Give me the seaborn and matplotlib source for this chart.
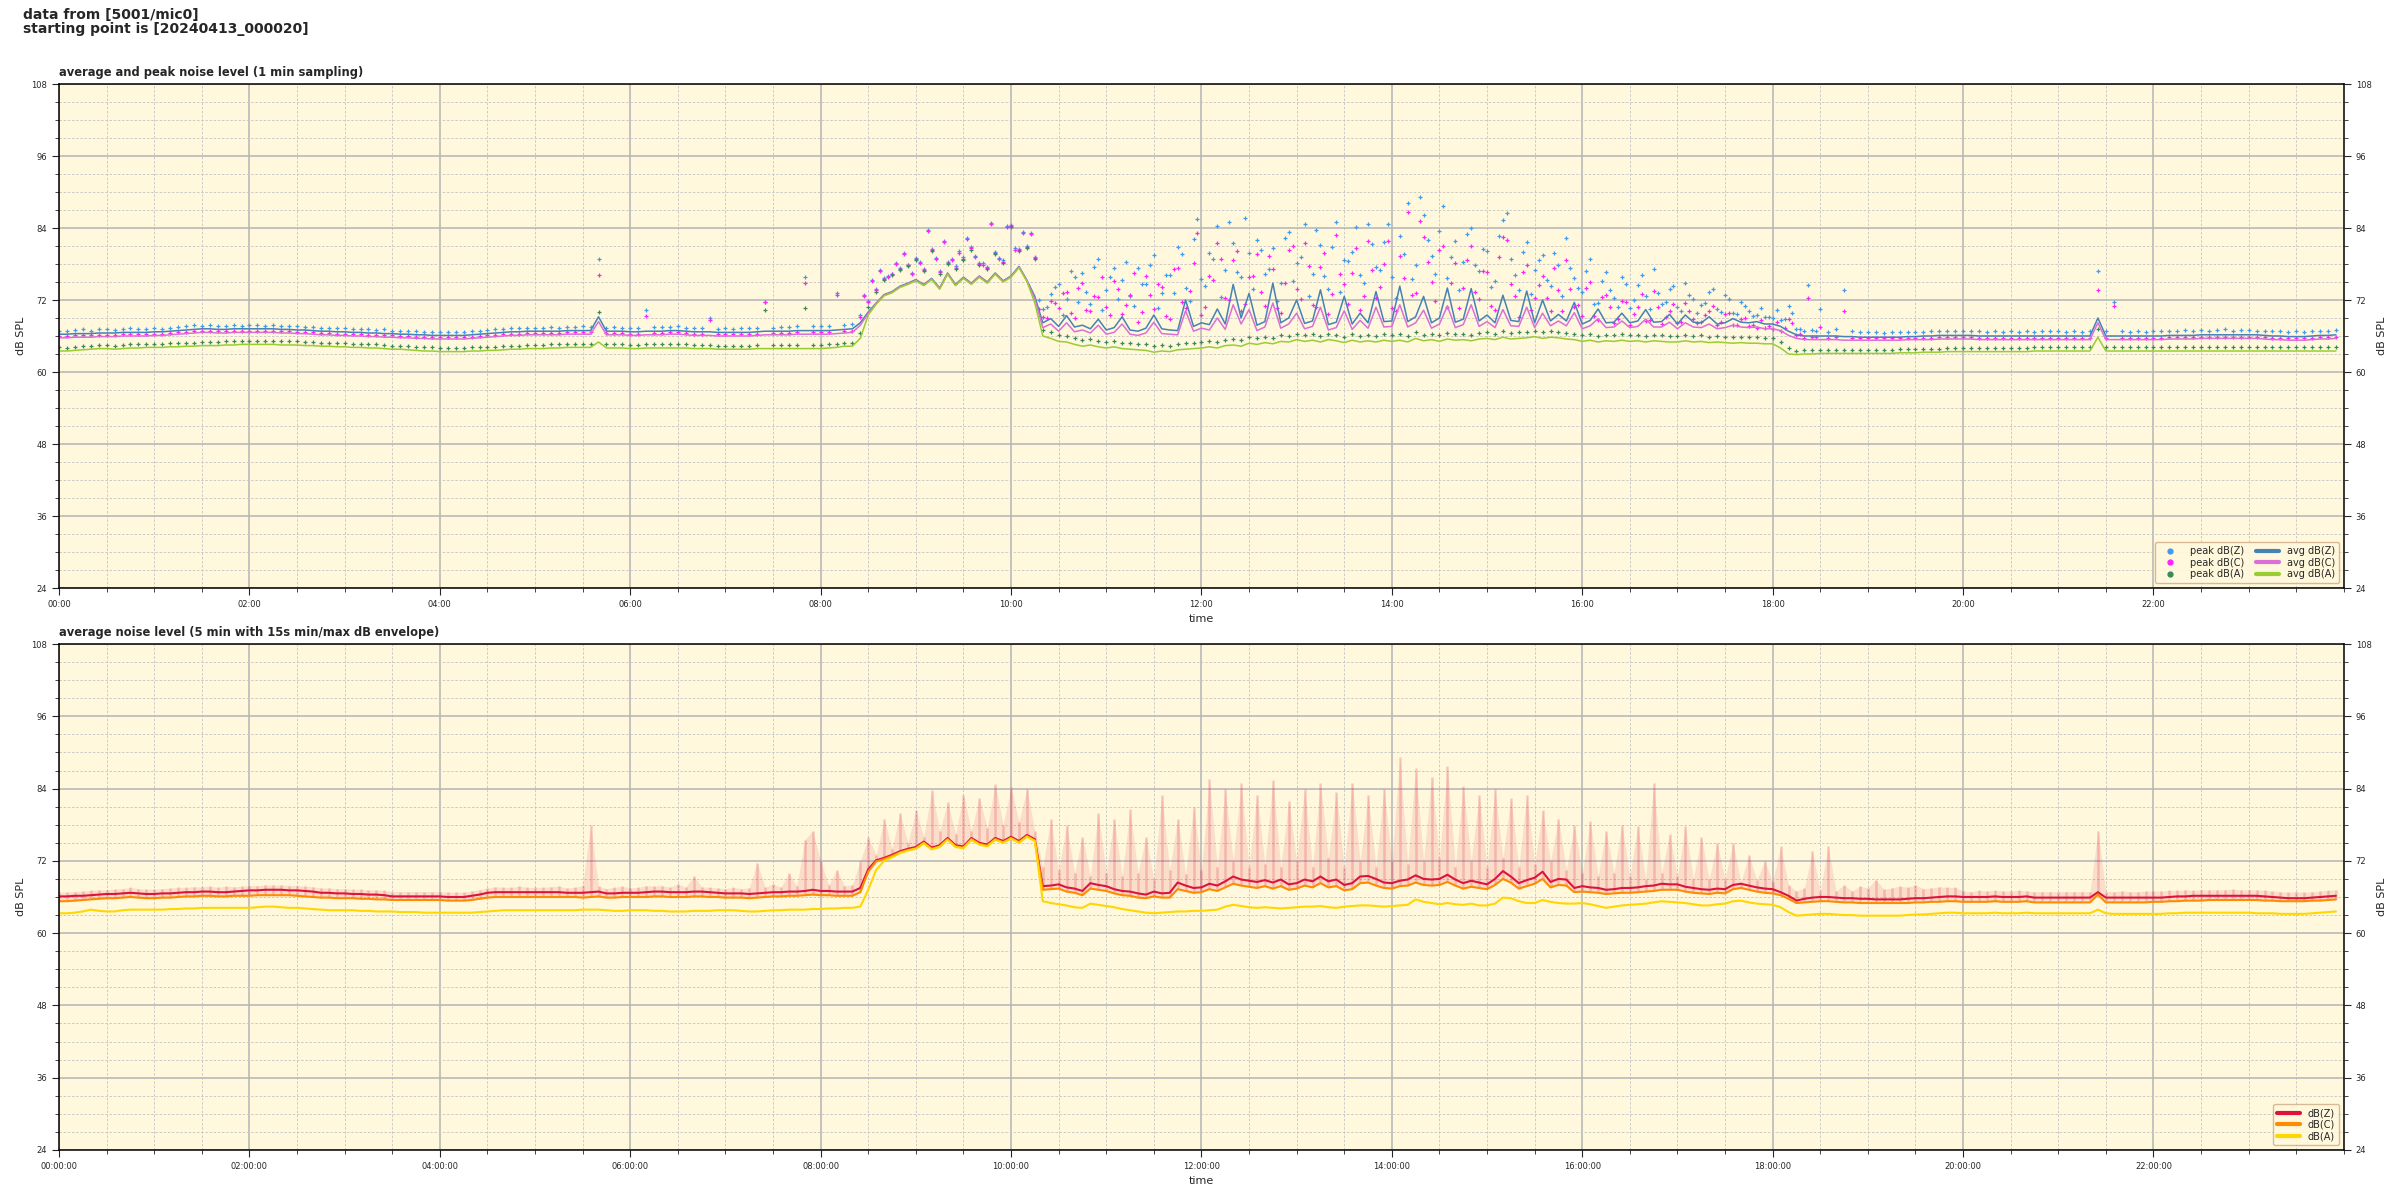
import numpy as np
import matplotlib
matplotlib.use("Agg")
import matplotlib.pyplot as plt
from matplotlib.ticker import MultipleLocator, FuncFormatter
from matplotlib.lines import Line2D
import seaborn as sns

sns.set_style("ticks")
plt.rcParams["font.family"] = ["DejaVu Sans"]

# sampling times, minutes after 00:00 (5 min grid)
minutes = np.arange(0, 1440, 5)

# ---- lower panel : 5 min averages ----
db_z = [
    66.1, 66.1, 66.2, 66.2, 66.3, 66.4, 66.5, 66.5, 66.6, 66.7, 66.6, 66.5,
    66.5, 66.6, 66.6, 66.7, 66.8, 66.8, 66.9, 66.9, 66.8, 66.8, 66.9, 67.0,
    67.1, 67.1, 67.2, 67.2, 67.2, 67.1, 67.1, 67.0, 66.9, 66.7, 66.7, 66.6,
    66.6, 66.5, 66.5, 66.4, 66.4, 66.3, 66.1, 66.1, 66.1, 66.1, 66.1, 66.1,
    66.1, 66.0, 66.0, 66.0, 66.2, 66.4, 66.7, 66.8, 66.8, 66.8, 66.8, 66.8,
    66.8, 66.8, 66.8, 66.8, 66.7, 66.7, 66.7, 66.8, 66.9, 66.6, 66.6, 66.7,
    66.7, 66.7, 66.8, 66.9, 66.9, 66.8, 66.8, 66.8, 66.9, 66.9, 66.8, 66.7,
    66.6, 66.6, 66.6, 66.5, 66.6, 66.7, 66.8, 66.8, 66.9, 66.9, 67.0, 67.2,
    67.0, 67.0, 66.9, 66.9, 66.9, 67.5, 70.6, 72.1, 72.5, 73.0, 73.6, 74.0,
    74.3, 75.2, 74.2, 74.6, 75.8, 74.6, 74.4, 75.8, 75.0, 74.7, 75.8, 75.3,
    76.0, 75.3, 76.3, 75.6, 67.8, 67.9, 68.1, 67.6, 67.4, 67.0, 68.3, 68.0,
    67.8, 67.3, 67.0, 66.9, 66.6, 66.4, 66.9, 66.6, 66.7, 68.4, 67.9, 67.5,
    67.6, 68.2, 67.9, 68.6, 69.4, 68.9, 68.7, 68.5, 68.8, 68.4, 68.9, 68.1,
    68.3, 68.9, 68.6, 69.4, 68.6, 68.9, 68.0, 68.3, 69.4, 69.5, 69.0, 68.4,
    68.3, 68.7, 68.9, 69.6, 69.0, 68.9, 69.0, 69.7, 68.9, 68.3, 68.7, 68.4,
    68.1, 69.0, 70.3, 69.4, 68.3, 68.8, 69.2, 70.2, 68.5, 69.0, 68.9, 67.5,
    67.8, 67.6, 67.5, 67.2, 67.3, 67.5, 67.5, 67.6, 67.8, 67.9, 68.2, 68.1,
    68.1, 67.7, 67.5, 67.3, 67.2, 67.4, 67.3, 68.0, 68.2, 67.9, 67.6, 67.4,
    67.3, 66.8, 66.2, 65.4, 65.7, 65.9, 66.0, 66.0, 65.9, 65.8, 65.8, 65.7,
    65.7, 65.6, 65.6, 65.6, 65.6, 65.7, 65.8, 65.8, 65.9, 66.0, 66.1, 66.1,
    66.0, 66.0, 66.0, 66.0, 66.1, 66.0, 66.0, 66.0, 66.1, 65.9, 65.9, 65.9,
    65.9, 65.9, 65.9, 65.9, 65.9, 66.8, 65.9, 65.9, 65.9, 65.9, 65.9, 65.9,
    65.9, 65.9, 66.0, 66.1, 66.1, 66.2, 66.2, 66.2, 66.2, 66.2, 66.2, 66.2,
    66.2, 66.2, 66.1, 66.0, 65.9, 65.8, 65.8, 65.8, 65.9, 66.0, 66.1, 66.2,
]
db_c = [
    65.3, 65.3, 65.4, 65.5, 65.6, 65.7, 65.8, 65.8, 65.9, 66.0, 65.9, 65.8,
    65.8, 65.9, 65.9, 66.0, 66.1, 66.1, 66.2, 66.2, 66.1, 66.1, 66.2, 66.2,
    66.2, 66.3, 66.3, 66.3, 66.3, 66.3, 66.2, 66.1, 66.0, 65.9, 65.9, 65.8,
    65.8, 65.8, 65.7, 65.7, 65.6, 65.6, 65.5, 65.5, 65.5, 65.5, 65.5, 65.5,
    65.5, 65.4, 65.4, 65.4, 65.5, 65.7, 65.9, 66.0, 66.0, 66.0, 66.0, 66.0,
    66.0, 66.0, 66.0, 66.0, 66.0, 66.0, 65.9, 66.0, 66.1, 65.9, 65.9, 66.0,
    66.0, 66.0, 66.0, 66.1, 66.1, 66.0, 66.0, 66.0, 66.1, 66.1, 66.0, 66.0,
    65.9, 65.9, 65.9, 65.8, 65.9, 66.0, 66.1, 66.1, 66.2, 66.2, 66.3, 66.4,
    66.3, 66.3, 66.2, 66.2, 66.2, 66.8, 70.2, 71.9, 72.3, 72.8, 73.4, 73.8,
    74.1, 75.0, 74.0, 74.4, 75.6, 74.4, 74.2, 75.6, 74.8, 74.5, 75.6, 75.1,
    75.8, 75.1, 76.1, 75.4, 67.2, 67.3, 67.4, 66.9, 66.7, 66.3, 67.4, 67.2,
    67.0, 66.6, 66.3, 66.2, 65.9, 65.8, 66.1, 65.9, 65.9, 67.3, 67.0, 66.7,
    66.8, 67.3, 67.0, 67.6, 68.2, 67.9, 67.7, 67.5, 67.8, 67.4, 67.8, 67.2,
    67.4, 67.9, 67.6, 68.3, 67.6, 67.8, 67.1, 67.3, 68.3, 68.4, 67.9, 67.5,
    67.4, 67.8, 67.9, 68.4, 68.0, 67.9, 68.0, 68.5, 67.9, 67.4, 67.7, 67.5,
    67.3, 68.0, 69.0, 68.4, 67.4, 67.8, 68.2, 69.0, 67.6, 68.0, 67.9, 66.8,
    66.9, 66.8, 66.7, 66.5, 66.6, 66.7, 66.7, 66.8, 66.9, 67.0, 67.2, 67.2,
    67.2, 66.9, 66.7, 66.6, 66.5, 66.7, 66.6, 67.3, 67.5, 67.2, 66.9, 66.7,
    66.6, 66.3, 65.7, 65.0, 65.1, 65.2, 65.3, 65.3, 65.2, 65.1, 65.1, 65.0,
    65.0, 65.0, 65.0, 65.0, 65.0, 65.0, 65.1, 65.1, 65.2, 65.2, 65.3, 65.3,
    65.2, 65.2, 65.2, 65.2, 65.3, 65.2, 65.2, 65.2, 65.3, 65.1, 65.1, 65.1,
    65.1, 65.1, 65.1, 65.1, 65.1, 66.4, 65.1, 65.1, 65.1, 65.1, 65.1, 65.1,
    65.2, 65.2, 65.3, 65.3, 65.4, 65.4, 65.4, 65.5, 65.5, 65.5, 65.5, 65.5,
    65.5, 65.5, 65.4, 65.4, 65.3, 65.3, 65.3, 65.3, 65.4, 65.4, 65.5, 65.6,
]
db_a = [
    63.3, 63.3, 63.4, 63.6, 63.9, 63.7, 63.6, 63.6, 63.8, 63.9, 63.9, 63.9,
    63.9, 63.9, 64.0, 64.0, 64.1, 64.1, 64.2, 64.2, 64.2, 64.2, 64.2, 64.2,
    64.2, 64.3, 64.4, 64.4, 64.3, 64.2, 64.2, 64.1, 64.0, 63.9, 63.8, 63.8,
    63.8, 63.8, 63.7, 63.7, 63.6, 63.6, 63.6, 63.5, 63.5, 63.5, 63.4, 63.4,
    63.4, 63.4, 63.4, 63.4, 63.4, 63.5, 63.6, 63.7, 63.8, 63.8, 63.8, 63.8,
    63.8, 63.8, 63.8, 63.8, 63.8, 63.8, 63.9, 63.9, 63.9, 63.8, 63.7, 63.7,
    63.8, 63.8, 63.8, 63.7, 63.7, 63.6, 63.6, 63.6, 63.7, 63.7, 63.7, 63.8,
    63.8, 63.8, 63.7, 63.6, 63.6, 63.7, 63.8, 63.8, 63.9, 63.9, 63.9, 64.0,
    64.0, 64.1, 64.1, 64.2, 64.2, 64.4, 67.2, 70.5, 72.0, 72.6, 73.3, 73.7,
    74.0, 74.9, 73.9, 74.3, 75.5, 74.3, 74.1, 75.5, 74.7, 74.4, 75.5, 75.0,
    75.7, 75.0, 76.0, 75.3, 65.3, 65.0, 64.8, 64.6, 64.3, 64.2, 64.9, 64.7,
    64.5, 64.3, 64.0, 63.8, 63.6, 63.4, 63.3, 63.4, 63.5, 63.6, 63.6, 63.7,
    63.7, 63.8, 63.9, 64.4, 64.7, 64.5, 64.3, 64.2, 64.3, 64.2, 64.1, 64.2,
    64.3, 64.4, 64.4, 64.5, 64.3, 64.2, 64.4, 64.5, 64.6, 64.6, 64.5, 64.4,
    64.5, 64.6, 64.7, 65.6, 65.2, 65.0, 64.8, 65.0, 64.8, 64.7, 64.9, 64.6,
    64.6, 64.9, 65.9, 65.8, 65.3, 65.0, 65.0, 65.5, 65.2, 65.0, 64.9, 64.9,
    65.0, 64.8, 64.5, 64.2, 64.4, 64.6, 64.7, 64.8, 64.9, 65.1, 65.3, 65.2,
    65.1, 65.0, 64.8, 64.6, 64.6, 64.8, 64.9, 65.3, 65.4, 65.1, 64.9, 64.8,
    64.7, 64.3, 63.5, 62.9, 63.0, 63.1, 63.2, 63.2, 63.1, 63.0, 63.0, 62.9,
    62.9, 62.9, 62.9, 62.9, 62.9, 63.0, 63.1, 63.1, 63.2, 63.3, 63.4, 63.4,
    63.3, 63.3, 63.3, 63.3, 63.4, 63.3, 63.3, 63.3, 63.4, 63.3, 63.3, 63.3,
    63.3, 63.3, 63.3, 63.3, 63.3, 63.9, 63.3, 63.2, 63.2, 63.2, 63.2, 63.2,
    63.2, 63.2, 63.3, 63.3, 63.4, 63.4, 63.4, 63.4, 63.4, 63.4, 63.4, 63.4,
    63.4, 63.3, 63.3, 63.3, 63.2, 63.2, 63.2, 63.2, 63.3, 63.4, 63.5, 63.6,
]
# upper edge of the 15 s min/max envelope
env_max = [
    66.8, 66.8, 66.9, 67.0, 67.1, 67.2, 67.2, 67.3, 67.4, 67.6, 67.4, 67.3,
    67.3, 67.4, 67.5, 67.6, 67.6, 67.7, 67.7, 67.8, 67.6, 67.8, 67.7, 67.8,
    67.9, 67.9, 68.0, 68.0, 68.0, 67.9, 67.9, 67.8, 67.7, 67.5, 67.5, 67.4,
    67.4, 67.3, 67.3, 67.2, 67.2, 67.1, 66.9, 66.9, 66.9, 66.9, 66.9, 66.9,
    66.9, 66.8, 66.8, 66.8, 67.0, 67.2, 67.5, 67.7, 67.6, 67.6, 67.8, 67.6,
    67.6, 67.6, 67.7, 67.8, 67.5, 67.6, 67.9, 78.0, 67.8, 67.4, 67.6, 67.8,
    67.5, 67.6, 67.9, 67.8, 67.9, 67.6, 68.2, 67.6, 69.5, 67.7, 67.6, 67.5,
    67.4, 67.6, 67.4, 67.5, 71.7, 67.6, 68.2, 67.6, 70.0, 67.8, 75.5, 77.0,
    72.0, 68.0, 70.5, 67.9, 68.0, 72.0, 75.9, 73.0, 79.0, 74.0, 80.0, 75.0,
    80.5, 76.0, 83.7, 77.0, 81.7, 76.5, 83.0, 77.0, 82.5, 77.5, 84.8, 78.0,
    84.2, 78.5, 84.0, 77.0, 71.0, 79.0, 70.5, 78.0, 70.0, 76.0, 69.5, 80.0,
    70.0, 79.0, 69.5, 80.6, 70.0, 76.0, 69.0, 83.0, 70.5, 79.0, 69.8, 81.0,
    70.5, 85.6, 71.0, 84.0, 72.0, 85.0, 71.0, 83.0, 71.5, 85.5, 71.0, 82.0,
    72.0, 84.0, 71.0, 85.0, 72.5, 83.5, 71.0, 85.0, 72.0, 83.0, 71.0, 84.0,
    72.0, 89.2, 71.5, 87.5, 72.0, 86.0, 72.5, 87.8, 71.0, 84.5, 72.0, 83.0,
    71.0, 83.9, 72.5, 82.5, 71.0, 83.0, 71.5, 80.5, 72.0, 79.0, 70.5, 78.0,
    70.0, 78.6, 69.5, 77.0, 70.0, 78.0, 69.5, 77.8, 69.0, 85.0, 70.0, 76.5,
    69.5, 77.8, 69.0, 76.0, 69.0, 75.0, 69.0, 75.0, 68.5, 73.0, 68.8, 72.0,
    68.5, 74.4, 68.0, 67.0, 67.5, 73.6, 67.0, 74.4, 67.0, 68.0, 67.0, 67.8,
    67.5, 68.9, 67.3, 67.5, 67.8, 67.6, 68.0, 67.4, 67.5, 67.7, 67.6, 67.6,
    67.0, 66.9, 67.1, 67.0, 67.1, 67.0, 67.0, 67.1, 67.0, 66.9, 66.9, 66.9,
    66.9, 66.9, 66.9, 66.9, 66.9, 77.0, 66.9, 66.9, 67.0, 66.9, 66.9, 67.0,
    67.0, 67.0, 67.1, 67.1, 67.2, 67.1, 67.2, 67.2, 67.2, 67.2, 67.3, 67.2,
    67.2, 67.2, 67.1, 67.0, 66.9, 66.8, 66.9, 66.8, 66.9, 67.0, 67.1, 67.2,
]

# ---- upper panel : averages and peaks ----
avg_z = [
    66.3, 66.3, 66.4, 66.4, 66.4, 66.5, 66.5, 66.5, 66.6, 66.6, 66.6, 66.6,
    66.7, 66.7, 66.8, 66.9, 67.0, 67.1, 67.2, 67.2, 67.1, 67.1, 67.2, 67.2,
    67.2, 67.2, 67.2, 67.2, 67.1, 67.1, 67.0, 67.0, 66.9, 66.8, 66.8, 66.7,
    66.7, 66.6, 66.6, 66.5, 66.5, 66.4, 66.4, 66.3, 66.3, 66.2, 66.2, 66.1,
    66.1, 66.1, 66.1, 66.1, 66.2, 66.3, 66.4, 66.5, 66.6, 66.7, 66.7, 66.8,
    66.8, 66.8, 66.8, 66.8, 66.9, 66.9, 66.9, 66.9, 69.2, 66.8, 66.8, 66.8,
    66.7, 66.7, 66.8, 66.8, 66.8, 66.9, 66.9, 66.8, 66.7, 66.7, 66.7, 66.6,
    66.6, 66.6, 66.6, 66.6, 66.7, 66.8, 66.8, 66.8, 66.8, 66.9, 66.9, 66.9,
    66.9, 66.9, 67.0, 67.1, 67.2, 68.2, 70.0, 71.5, 72.9, 73.4, 74.3, 74.8,
    75.4, 74.6, 75.6, 74.0, 76.5, 74.6, 75.8, 74.8, 76.0, 75.0, 76.5, 75.2,
    76.0, 77.6, 75.3, 72.6, 68.2, 68.9, 67.6, 69.4, 67.5, 67.8, 67.2, 68.8,
    67.0, 67.4, 69.2, 67.0, 66.8, 67.3, 69.5, 67.2, 67.0, 66.9, 72.0, 67.6,
    68.2, 67.9, 70.5, 68.0, 74.6, 69.0, 73.1, 67.8, 68.4, 74.8, 68.2, 69.0,
    72.0, 68.1, 68.5, 73.7, 67.9, 68.3, 72.6, 68.0, 69.8, 68.2, 73.4, 68.4,
    68.5, 74.3, 68.4, 69.2, 72.6, 68.2, 69.0, 74.0, 68.3, 68.8, 73.9, 68.5,
    69.5, 68.2, 72.8, 68.6, 68.4, 73.5, 68.2, 72.0, 68.5, 69.6, 68.5, 71.6,
    68.0, 68.6, 70.5, 68.2, 68.3, 69.8, 68.2, 68.5, 70.4, 68.3, 68.4, 69.6,
    68.0, 69.5, 68.3, 68.2, 69.2, 68.0, 68.2, 68.9, 68.3, 68.2, 68.4, 68.0,
    68.0, 67.6, 66.8, 66.2, 66.0, 66.0, 66.0, 66.0, 66.0, 65.9, 65.9, 65.8,
    65.8, 65.8, 65.8, 65.8, 65.8, 65.9, 65.9, 66.0, 66.0, 66.1, 66.1, 66.1,
    66.1, 66.1, 66.0, 66.0, 66.0, 66.0, 66.0, 66.0, 66.0, 66.0, 66.0, 66.0,
    66.0, 66.0, 66.0, 66.0, 66.0, 69.0, 66.0, 66.0, 66.0, 66.0, 66.0, 66.0,
    66.0, 66.0, 66.1, 66.1, 66.1, 66.1, 66.2, 66.2, 66.2, 66.2, 66.2, 66.2,
    66.2, 66.2, 66.1, 66.0, 66.0, 65.9, 65.9, 65.9, 66.0, 66.1, 66.1, 66.2,
]
avg_c = [
    65.7, 65.7, 65.8, 65.8, 65.8, 65.9, 65.9, 65.9, 66.0, 66.0, 66.0, 66.0,
    66.1, 66.1, 66.2, 66.3, 66.4, 66.5, 66.6, 66.6, 66.5, 66.5, 66.6, 66.6,
    66.6, 66.6, 66.6, 66.6, 66.5, 66.5, 66.4, 66.4, 66.3, 66.2, 66.2, 66.1,
    66.1, 66.0, 66.0, 65.9, 65.9, 65.8, 65.8, 65.7, 65.7, 65.6, 65.6, 65.5,
    65.5, 65.5, 65.5, 65.5, 65.6, 65.7, 65.8, 65.9, 66.0, 66.1, 66.1, 66.2,
    66.2, 66.2, 66.2, 66.2, 66.3, 66.3, 66.3, 66.3, 68.4, 66.2, 66.2, 66.2,
    66.1, 66.1, 66.2, 66.2, 66.2, 66.3, 66.3, 66.2, 66.1, 66.1, 66.1, 66.0,
    66.0, 66.0, 66.0, 66.0, 66.1, 66.2, 66.2, 66.2, 66.2, 66.3, 66.3, 66.3,
    66.3, 66.3, 66.4, 66.5, 66.6, 67.8, 69.8, 71.4, 72.8, 73.3, 74.2, 74.7,
    75.3, 74.5, 75.5, 73.9, 76.4, 74.5, 75.7, 74.7, 75.9, 74.9, 76.4, 75.1,
    75.9, 77.5, 75.2, 72.2, 67.4, 68.0, 66.8, 68.2, 66.7, 67.0, 66.5, 67.8,
    66.3, 66.6, 68.0, 66.3, 66.1, 66.5, 68.3, 66.4, 66.3, 66.2, 70.2, 66.8,
    67.3, 67.0, 69.0, 67.1, 71.2, 68.0, 70.4, 66.9, 67.5, 71.5, 67.3, 68.0,
    69.8, 67.2, 67.6, 70.8, 67.0, 67.4, 70.2, 67.1, 68.6, 67.3, 70.8, 67.5,
    67.6, 71.2, 67.5, 68.2, 70.3, 67.3, 68.0, 71.0, 67.4, 67.9, 71.2, 67.6,
    68.4, 67.4, 70.4, 67.7, 67.6, 70.8, 67.4, 69.8, 67.7, 68.5, 67.7, 69.9,
    67.2, 67.7, 68.9, 67.4, 67.5, 68.5, 67.4, 67.6, 68.8, 67.5, 67.5, 68.3,
    67.2, 68.2, 67.5, 67.4, 68.0, 67.2, 67.4, 67.8, 67.5, 67.4, 67.5, 67.2,
    67.2, 66.9, 66.1, 65.6, 65.4, 65.4, 65.4, 65.4, 65.4, 65.3, 65.3, 65.3,
    65.3, 65.3, 65.3, 65.3, 65.3, 65.4, 65.4, 65.4, 65.4, 65.5, 65.5, 65.5,
    65.5, 65.5, 65.4, 65.4, 65.4, 65.4, 65.4, 65.4, 65.4, 65.4, 65.4, 65.4,
    65.4, 65.4, 65.4, 65.4, 65.4, 68.2, 65.4, 65.4, 65.4, 65.4, 65.4, 65.4,
    65.4, 65.4, 65.5, 65.5, 65.5, 65.5, 65.6, 65.6, 65.6, 65.6, 65.6, 65.6,
    65.6, 65.6, 65.5, 65.4, 65.4, 65.3, 65.3, 65.3, 65.4, 65.5, 65.5, 65.6,
]
avg_a = [
    63.5, 63.5, 63.6, 63.7, 63.8, 63.9, 63.9, 63.8, 63.9, 64.0, 64.0, 64.1,
    64.1, 64.1, 64.2, 64.2, 64.3, 64.3, 64.4, 64.4, 64.4, 64.5, 64.5, 64.6,
    64.6, 64.6, 64.6, 64.6, 64.5, 64.5, 64.5, 64.4, 64.4, 64.3, 64.3, 64.2,
    64.2, 64.1, 64.1, 64.0, 64.0, 63.9, 63.8, 63.8, 63.7, 63.6, 63.5, 63.5,
    63.4, 63.4, 63.4, 63.4, 63.5, 63.5, 63.6, 63.6, 63.7, 63.8, 63.8, 63.9,
    63.9, 63.9, 64.0, 64.0, 64.1, 64.1, 64.1, 64.1, 65.0, 64.0, 64.0, 64.0,
    63.9, 63.9, 64.0, 64.0, 64.0, 64.0, 64.0, 64.0, 63.9, 63.9, 63.9, 63.8,
    63.8, 63.8, 63.8, 63.8, 63.9, 63.9, 63.9, 63.9, 63.9, 63.9, 63.9, 63.9,
    63.9, 64.0, 64.1, 64.3, 64.3, 65.6, 69.5, 71.3, 72.7, 73.2, 74.1, 74.6,
    75.2, 74.4, 75.4, 73.8, 76.3, 74.4, 75.6, 74.6, 75.8, 74.8, 76.3, 75.0,
    75.8, 77.4, 75.1, 71.5, 66.0, 65.6, 65.1, 65.0, 64.6, 64.3, 64.5, 64.2,
    64.0, 64.2, 63.9, 63.8, 63.7, 63.6, 63.3, 63.5, 63.4, 63.7, 63.8, 63.9,
    64.0, 64.2, 64.0, 64.4, 64.5, 64.3, 64.8, 64.6, 64.9, 64.7, 65.1, 65.0,
    65.4, 65.1, 65.3, 65.0, 65.4, 65.2, 64.9, 65.3, 65.0, 65.2, 65.0, 65.3,
    65.1, 65.3, 65.0, 65.6, 65.2, 65.4, 65.1, 65.5, 65.3, 65.4, 65.2, 65.5,
    65.6, 65.4, 65.8, 65.5, 65.6, 65.7, 65.9, 65.6, 65.8, 65.7, 65.5, 65.4,
    65.1, 65.3, 65.0, 65.2, 65.1, 65.3, 65.1, 65.2, 65.0, 65.2, 65.1, 65.0,
    65.0, 65.2, 65.0, 65.1, 64.9, 65.0, 64.9, 64.8, 64.9, 64.8, 64.8, 64.7,
    64.7, 64.0, 63.0, 62.9, 63.0, 63.0, 63.1, 63.1, 63.1, 63.1, 63.1, 63.1,
    63.1, 63.1, 63.1, 63.1, 63.2, 63.2, 63.2, 63.3, 63.3, 63.3, 63.4, 63.4,
    63.4, 63.4, 63.4, 63.4, 63.4, 63.4, 63.4, 63.4, 63.4, 63.5, 63.5, 63.5,
    63.5, 63.5, 63.5, 63.5, 63.5, 65.8, 63.5, 63.5, 63.5, 63.5, 63.5, 63.5,
    63.5, 63.5, 63.5, 63.5, 63.5, 63.5, 63.5, 63.5, 63.5, 63.5, 63.5, 63.5,
    63.5, 63.5, 63.5, 63.5, 63.5, 63.5, 63.5, 63.5, 63.5, 63.5, 63.5, 63.5,
]
peak_z = [
    66.9, 66.8, 67.0, 67.1, 66.9, 67.1, 67.2, 67.0, 67.2, 67.3, 67.1, 67.2,
    67.3, 67.2, 67.4, 67.5, 67.6, 67.8, 67.7, 67.9, 67.6, 67.7, 67.8, 67.7,
    67.9, 67.8, 67.7, 67.8, 67.6, 67.7, 67.6, 67.5, 67.5, 67.4, 67.3, 67.3,
    67.3, 67.2, 67.1, 67.1, 67.0, 67.1, 66.9, 66.9, 66.8, 66.8, 66.7, 66.7,
    66.7, 66.6, 66.7, 66.6, 66.8, 66.9, 67.0, 67.1, 67.2, 67.3, 67.3, 67.4,
    67.4, 67.3, 67.5, 67.4, 67.5, 67.5, 67.6, 67.5, 78.8, 67.4, 67.5, 67.4,
    67.3, 67.4, 70.4, 67.5, 67.5, 67.5, 67.6, 67.4, 67.3, 67.4, 69.0, 67.2,
    67.3, 67.2, 67.3, 67.3, 67.4, 71.7, 67.4, 67.5, 67.5, 67.6, 75.9, 67.7,
    67.7, 67.6, 73.1, 67.9, 68.0, 69.5, 71.8, 73.8, 75.6, 76.4, 77.3, 77.9,
    79.0, 77.2, 80.5, 76.8, 78.4, 77.6, 79.1, 80.8, 78.2, 77.5, 80.0, 78.6,
    84.5, 80.5, 81.0, 79.2, 70.5, 73.0, 74.6, 72.2, 75.8, 76.5, 71.4, 78.8,
    73.7, 77.4, 75.4, 72.6, 77.3, 74.7, 79.5, 73.2, 76.1, 80.8, 74.0, 82.1,
    75.5, 79.8, 84.3, 77.0, 81.5, 75.9, 79.8, 82.0, 76.4, 80.6, 74.8, 83.4,
    78.1, 84.6, 76.3, 81.2, 73.9, 85.0, 78.6, 80.0, 76.2, 84.7, 77.5, 81.6,
    75.8, 82.7, 88.2, 77.9, 86.1, 79.4, 83.5, 75.6, 81.9, 78.3, 84.0, 76.9,
    80.2, 75.1, 85.3, 78.8, 73.7, 81.6, 77.0, 79.5, 74.3, 77.8, 82.4, 75.6,
    73.4, 78.9, 71.5, 76.6, 72.3, 75.8, 70.7, 74.5, 72.6, 77.2, 71.3, 73.8,
    70.9, 74.8, 72.1, 71.2, 73.3, 70.5, 72.9, 69.8, 71.7, 70.1, 69.5, 69.2,
    69.0, 68.7, 71.0, 67.2, 66.8, 67.0, 70.5, 66.7, 67.1, 73.6, 66.8, 66.6,
    66.6, 66.7, 66.5, 66.6, 66.6, 66.7, 66.6, 66.7, 66.8, 66.8, 66.9, 66.9,
    66.9, 66.8, 66.8, 66.7, 66.8, 66.7, 66.8, 66.7, 66.8, 66.7, 66.8, 66.8,
    66.8, 66.7, 66.8, 66.7, 66.8, 76.8, 66.8, 71.7, 66.8, 66.7, 66.8, 66.7,
    66.8, 66.9, 66.9, 66.8, 67.0, 66.9, 67.0, 66.9, 67.0, 67.1, 66.9, 67.0,
    67.0, 66.9, 66.9, 66.8, 66.8, 66.7, 66.8, 66.7, 66.8, 66.9, 66.9, 67.0,
]
peak_c = [
    66.0, 66.0, 66.1, 66.1, 66.1, 66.2, 66.2, 66.2, 66.3, 66.3, 66.3, 66.3,
    66.4, 66.4, 66.5, 66.6, 66.7, 66.8, 66.9, 66.9, 66.8, 66.8, 66.9, 66.9,
    66.9, 66.9, 66.9, 66.9, 66.8, 66.8, 66.7, 66.7, 66.6, 66.5, 66.5, 66.4,
    66.4, 66.3, 66.3, 66.2, 66.2, 66.1, 66.1, 66.0, 66.0, 65.9, 65.9, 65.8,
    65.8, 65.8, 65.8, 65.8, 65.9, 66.0, 66.1, 66.2, 66.3, 66.4, 66.4, 66.5,
    66.5, 66.5, 66.5, 66.5, 66.6, 66.6, 66.6, 66.6, 76.1, 66.5, 66.5, 66.5,
    66.4, 66.4, 69.4, 66.5, 66.5, 66.6, 66.6, 66.5, 66.4, 66.4, 68.6, 66.3,
    66.3, 66.3, 66.3, 66.3, 66.4, 71.6, 66.5, 66.5, 66.5, 66.6, 74.9, 66.6,
    66.6, 66.6, 72.8, 66.8, 66.9, 69.2, 71.6, 73.7, 75.5, 76.3, 77.2, 77.8,
    78.8, 77.0, 80.3, 76.6, 78.2, 77.4, 78.9, 80.6, 78.0, 77.3, 79.8, 78.4,
    84.3, 80.3, 80.8, 79.0, 69.2, 71.8, 70.6, 73.4, 69.0, 74.8, 70.2, 72.5,
    70.8, 75.2, 69.6, 72.8, 68.4, 76.0, 70.5, 74.1, 68.9, 77.3, 70.6, 78.2,
    69.5, 76.0, 81.5, 72.4, 78.6, 70.2, 75.9, 79.6, 71.0, 77.2, 69.8, 80.4,
    73.8, 81.5, 71.2, 77.5, 69.6, 82.8, 74.6, 76.5, 70.4, 81.9, 72.3, 78.0,
    70.6, 79.3, 86.6, 73.2, 82.5, 75.0, 80.4, 70.8, 78.2, 74.0, 81.0, 72.1,
    76.6, 70.4, 82.5, 74.6, 69.2, 77.8, 72.4, 76.0, 70.1, 73.7, 78.6, 70.8,
    69.3, 75.0, 68.6, 72.9, 68.2, 71.9, 67.9, 70.8, 68.5, 73.5, 68.0, 70.1,
    68.2, 71.5, 68.9, 68.3, 70.1, 67.9, 69.6, 67.8, 68.8, 67.6, 67.4, 67.3,
    67.2, 66.9, 68.8, 66.1, 65.7, 65.8, 67.5, 65.7, 65.8, 70.2, 65.6, 65.6,
    65.6, 65.6, 65.6, 65.6, 65.6, 65.7, 65.7, 65.7, 65.7, 65.8, 65.8, 65.8,
    65.8, 65.8, 65.7, 65.7, 65.7, 65.7, 65.7, 65.7, 65.7, 65.7, 65.7, 65.7,
    65.7, 65.7, 65.7, 65.7, 65.7, 73.6, 65.7, 71.0, 65.7, 65.7, 65.7, 65.7,
    65.7, 65.7, 65.8, 65.8, 65.8, 65.8, 65.9, 65.9, 65.9, 65.9, 65.9, 65.9,
    65.9, 65.9, 65.8, 65.7, 65.7, 65.6, 65.6, 65.6, 65.7, 65.8, 65.8, 65.9,
]
peak_a = [
    64.1, 64.0, 64.2, 64.3, 64.4, 64.5, 64.5, 64.4, 64.5, 64.6, 64.6, 64.7,
    64.7, 64.7, 64.8, 64.8, 64.9, 64.9, 65.0, 65.0, 65.0, 65.1, 65.1, 65.2,
    65.2, 65.2, 65.2, 65.2, 65.1, 65.1, 65.1, 65.0, 65.0, 64.9, 64.9, 64.8,
    64.8, 64.7, 64.7, 64.6, 64.6, 64.5, 64.4, 64.4, 64.3, 64.2, 64.1, 64.1,
    64.0, 64.0, 64.0, 64.0, 64.1, 64.1, 64.2, 64.2, 64.3, 64.4, 64.4, 64.5,
    64.5, 64.5, 64.6, 64.6, 64.7, 64.7, 64.7, 64.7, 70.0, 64.6, 64.6, 64.6,
    64.5, 64.5, 64.6, 64.6, 64.6, 64.6, 64.6, 64.6, 64.5, 64.5, 64.5, 64.4,
    64.4, 64.4, 64.4, 64.4, 64.5, 70.3, 64.5, 64.5, 64.5, 64.5, 70.7, 64.5,
    64.5, 64.6, 64.7, 64.9, 64.9, 66.5, 70.8, 73.4, 75.3, 76.1, 77.0, 77.6,
    78.6, 76.8, 80.1, 76.4, 78.0, 77.2, 78.7, 80.4, 77.8, 77.1, 79.6, 78.2,
    84.1, 80.1, 80.6, 78.8, 67.0, 66.6, 66.1, 66.0, 65.6, 65.3, 65.5, 65.2,
    65.0, 65.2, 64.9, 64.8, 64.7, 64.6, 64.3, 64.5, 64.4, 64.7, 64.8, 64.9,
    65.0, 65.2, 65.0, 65.4, 65.5, 65.3, 65.8, 65.6, 65.9, 65.7, 66.1, 66.0,
    66.4, 66.1, 66.3, 66.0, 66.4, 66.2, 65.9, 66.3, 66.0, 66.2, 66.0, 66.3,
    66.1, 66.3, 66.0, 66.6, 66.2, 66.4, 66.1, 66.5, 66.3, 66.4, 66.2, 66.5,
    66.6, 66.4, 66.8, 66.5, 66.6, 66.7, 66.9, 66.6, 66.8, 66.7, 66.5, 66.4,
    66.1, 66.3, 66.0, 66.2, 66.1, 66.3, 66.1, 66.2, 66.0, 66.2, 66.1, 66.0,
    66.0, 66.2, 66.0, 66.1, 65.9, 66.0, 65.9, 65.8, 65.9, 65.8, 65.8, 65.7,
    65.7, 65.0, 64.0, 63.5, 63.6, 63.6, 63.7, 63.7, 63.7, 63.7, 63.7, 63.7,
    63.7, 63.7, 63.7, 63.7, 63.8, 63.8, 63.8, 63.9, 63.9, 63.9, 64.0, 64.0,
    64.0, 64.0, 64.0, 64.0, 64.0, 64.0, 64.0, 64.0, 64.0, 64.1, 64.1, 64.1,
    64.1, 64.1, 64.1, 64.1, 64.1, 67.2, 64.1, 64.1, 64.1, 64.1, 64.1, 64.1,
    64.1, 64.1, 64.1, 64.1, 64.1, 64.1, 64.1, 64.1, 64.1, 64.1, 64.1, 64.1,
    64.1, 64.1, 64.1, 64.1, 64.1, 64.1, 64.1, 64.1, 64.1, 64.1, 64.1, 64.1,
]

# extra peak readings between the 5 min points (08:27 .. 18:27)
extra_minutes = np.arange(507.5, 1110, 5)
extra_peak_z = [
    72.9, 75.4, 77.0, 76.0, 78.2, 79.8, 76.5, 78.4, 83.7, 79.0,
    81.8, 78.8, 80.1, 82.3, 79.4, 78.1, 84.8, 79.0, 84.3, 80.6,
    83.4, 83.2, 72.0,
    70.8, 74.2, 69.5, 76.8, 71.6, 73.3, 77.5, 70.4, 75.9, 72.1,
    78.4, 71.0, 74.7, 77.9, 70.6, 76.2, 73.1, 79.6, 71.8, 85.5,
    74.4, 78.8, 72.5, 85.0, 76.6, 85.7, 73.9, 80.3, 77.2, 71.9,
    82.4, 75.1, 79.2, 72.7, 83.6, 76.0, 80.9, 73.4, 78.5, 84.2,
    74.8, 81.3, 77.0, 84.6, 72.3, 79.7, 75.5, 89.2, 82.0, 76.3,
    87.7, 79.1, 73.6, 83.0, 77.8, 80.5, 74.2, 82.6, 86.5, 76.1,
    80.0, 73.0, 78.6, 75.4, 79.9, 72.6, 77.3, 74.0, 76.9, 71.4,
    75.2, 73.7, 70.9, 74.6, 72.0, 76.2, 70.5, 73.1, 71.6, 74.3,
    70.2, 72.8, 69.9, 71.5, 73.9, 70.0, 72.2, 69.6, 71.0, 69.4,
    70.6, 69.2, 70.3, 68.8, 69.9, 67.2, 74.5, 66.9,
]
extra_peak_c = [
    72.7, 75.2, 76.8, 75.8, 78.0, 79.6, 76.3, 78.2, 83.5, 78.8,
    81.6, 78.6, 79.9, 82.1, 79.2, 77.9, 84.6, 78.8, 84.1, 80.4,
    83.2, 83.0, 70.5,
    69.0, 71.5, 73.2, 69.8, 74.0, 70.3, 72.6, 75.8, 69.5, 73.8,
    71.2, 76.5, 70.0, 72.9, 74.6, 69.4, 77.1, 71.7, 73.5, 83.2,
    70.8, 75.3, 78.9, 72.0, 80.1, 71.3, 76.0, 73.4, 79.4, 70.6,
    74.9, 81.0, 72.2, 77.6, 70.9, 79.8, 73.0, 76.4, 71.4, 80.7,
    72.6, 77.0, 74.1, 81.8, 70.2, 75.7, 72.8, 85.1, 78.3, 71.9,
    81.0, 74.8, 70.7, 78.6, 73.3, 76.9, 71.0, 79.2, 82.0, 72.7,
    76.6, 70.4, 74.5, 72.3, 77.4, 70.1, 73.8, 71.2, 74.0, 69.3,
    72.5, 70.8, 68.9, 71.6, 69.7, 73.0, 68.6, 70.9, 69.2, 71.4,
    68.4, 70.2, 68.2, 69.5, 71.0, 68.3, 69.9, 67.9, 69.0, 67.8,
    68.7, 67.6, 68.4, 67.3, 68.1, 66.3, 72.4, 65.8,
]

peak_colors = {"Z": "#3d9bf0", "C": "#ff22ff", "A": "#3a8a5a"}
avg_colors = {"Z": "steelblue", "C": "orchid", "A": "yellowgreen"}
lvl_colors = {"Z": "crimson", "C": "darkorange", "A": "gold"}

BG = "cornsilk"


def hhmm(v, _):
    v = int(round(v))
    return f"{v // 60:02d}:{v % 60:02d}"


def hhmmss(v, _):
    v = int(round(v))
    return f"{v // 60:02d}:{v % 60:02d}:00"


def style_axes(ax, fmt):
    ax.set_facecolor(BG)
    ax.set_xlim(0, 1440)
    ax.set_ylim(24, 108)
    ax.set_yticks(range(24, 109, 12))
    ax.yaxis.set_minor_locator(MultipleLocator(3))
    ax.set_xticks(range(0, 1440, 120))
    ax.xaxis.set_minor_locator(MultipleLocator(30))
    ax.xaxis.set_major_formatter(FuncFormatter(fmt))
    ax.grid(which="major", color="#b4b4b4", lw=1.1, ls="-")
    ax.grid(which="minor", color="#c4c4c4", lw=0.6, ls=(0, (3, 2)))
    ax.set_axisbelow(True)
    ax.tick_params(which="major", length=5, width=0.8, labelsize=6, direction="out")
    ax.tick_params(which="minor", length=3, width=0.6, direction="out")
    for s in ax.spines.values():
        s.set_visible(True)
        s.set_linewidth(1.1)
        s.set_color("black")
    ax.set_xlabel("time", fontsize=8)
    ax.set_ylabel("dB SPL", fontsize=8)
    tw = ax.twinx()
    tw.set_ylim(24, 108)
    tw.set_yticks(range(24, 109, 12))
    tw.yaxis.set_minor_locator(MultipleLocator(3))
    tw.tick_params(which="major", length=5, width=0.8, labelsize=6)
    tw.tick_params(which="minor", length=3, width=0.6)
    tw.set_ylabel("dB SPL", fontsize=8)
    tw.grid(False)
    for s in tw.spines.values():
        s.set_visible(False)


fig = plt.figure(figsize=(24, 12), dpi=100)
ax1 = fig.add_axes([0.0246, 0.51, 0.952, 0.42])
ax2 = fig.add_axes([0.0246, 0.0417, 0.952, 0.4216])

fig.text(0.0096, 0.993, "data from [5001/mic0]\nstarting point is [20240413_000020]",
         fontsize=10, fontweight="bold", va="top", ha="left", linespacing=1.0)

# upper panel
sns.scatterplot(x=minutes, y=peak_z, marker="+", s=9, linewidth=0.9, color=peak_colors["Z"], ax=ax1, legend=False)
sns.scatterplot(x=extra_minutes, y=extra_peak_z, marker="+", s=9, linewidth=0.9, color=peak_colors["Z"], ax=ax1, legend=False)
sns.scatterplot(x=minutes, y=peak_c, marker="+", s=9, linewidth=0.9, color=peak_colors["C"], ax=ax1, legend=False)
sns.scatterplot(x=extra_minutes, y=extra_peak_c, marker="+", s=9, linewidth=0.9, color=peak_colors["C"], ax=ax1, legend=False)
sns.scatterplot(x=minutes, y=peak_a, marker="+", s=9, linewidth=0.9, color=peak_colors["A"], ax=ax1, legend=False)
sns.lineplot(x=minutes, y=avg_z, color=avg_colors["Z"], lw=1.1, ax=ax1, errorbar=None)
sns.lineplot(x=minutes, y=avg_c, color=avg_colors["C"], lw=1.1, ax=ax1, errorbar=None)
sns.lineplot(x=minutes, y=avg_a, color=avg_colors["A"], lw=1.1, ax=ax1, errorbar=None)
style_axes(ax1, hhmm)
ax1.set_title("average and peak noise level (1 min sampling)", loc="left", fontsize=8.3, fontweight="bold")

h1 = [Line2D([], [], ls="", marker="o", ms=3.5, color=peak_colors[k]) for k in "ZCA"]
h2 = [Line2D([], [], lw=3, color=avg_colors[k]) for k in "ZCA"]
leg1 = ax1.legend(h1 + h2,
                  ["peak dB(Z)", "peak dB(C)", "peak dB(A)", "avg dB(Z)", "avg dB(C)", "avg dB(A)"],
                  ncol=2, loc="lower right", fontsize=7, frameon=True, facecolor=BG,
                  edgecolor="tan", framealpha=0.9, handlelength=2.4, borderpad=0.4,
                  labelspacing=0.15, columnspacing=1.2)
leg1.set_zorder(10)

# lower panel: min/max envelope drawn as thin spikes over a faint fill
ax2.fill_between(minutes, db_c, env_max, color="crimson", alpha=0.11, lw=0)
ax2.vlines(minutes, db_c, env_max, color="crimson", alpha=0.2, lw=1.8)
sns.lineplot(x=minutes, y=db_z, color=lvl_colors["Z"], lw=1.5, ax=ax2, errorbar=None)
sns.lineplot(x=minutes, y=db_c, color=lvl_colors["C"], lw=1.5, ax=ax2, errorbar=None)
sns.lineplot(x=minutes, y=db_a, color=lvl_colors["A"], lw=1.5, ax=ax2, errorbar=None)
style_axes(ax2, hhmmss)
ax2.set_title("average noise level (5 min with 15s min/max dB envelope)", loc="left", fontsize=8.3, fontweight="bold")

h3 = [Line2D([], [], lw=3, color=lvl_colors[k]) for k in "ZCA"]
leg2 = ax2.legend(h3, ["dB(Z)", "dB(C)", "dB(A)"], loc="lower right", fontsize=7,
                  frameon=True, facecolor=BG, edgecolor="tan", framealpha=0.9,
                  handlelength=2.4, borderpad=0.4, labelspacing=0.15)
leg2.set_zorder(10)

fig.savefig("out.png", dpi=100, facecolor="white")
